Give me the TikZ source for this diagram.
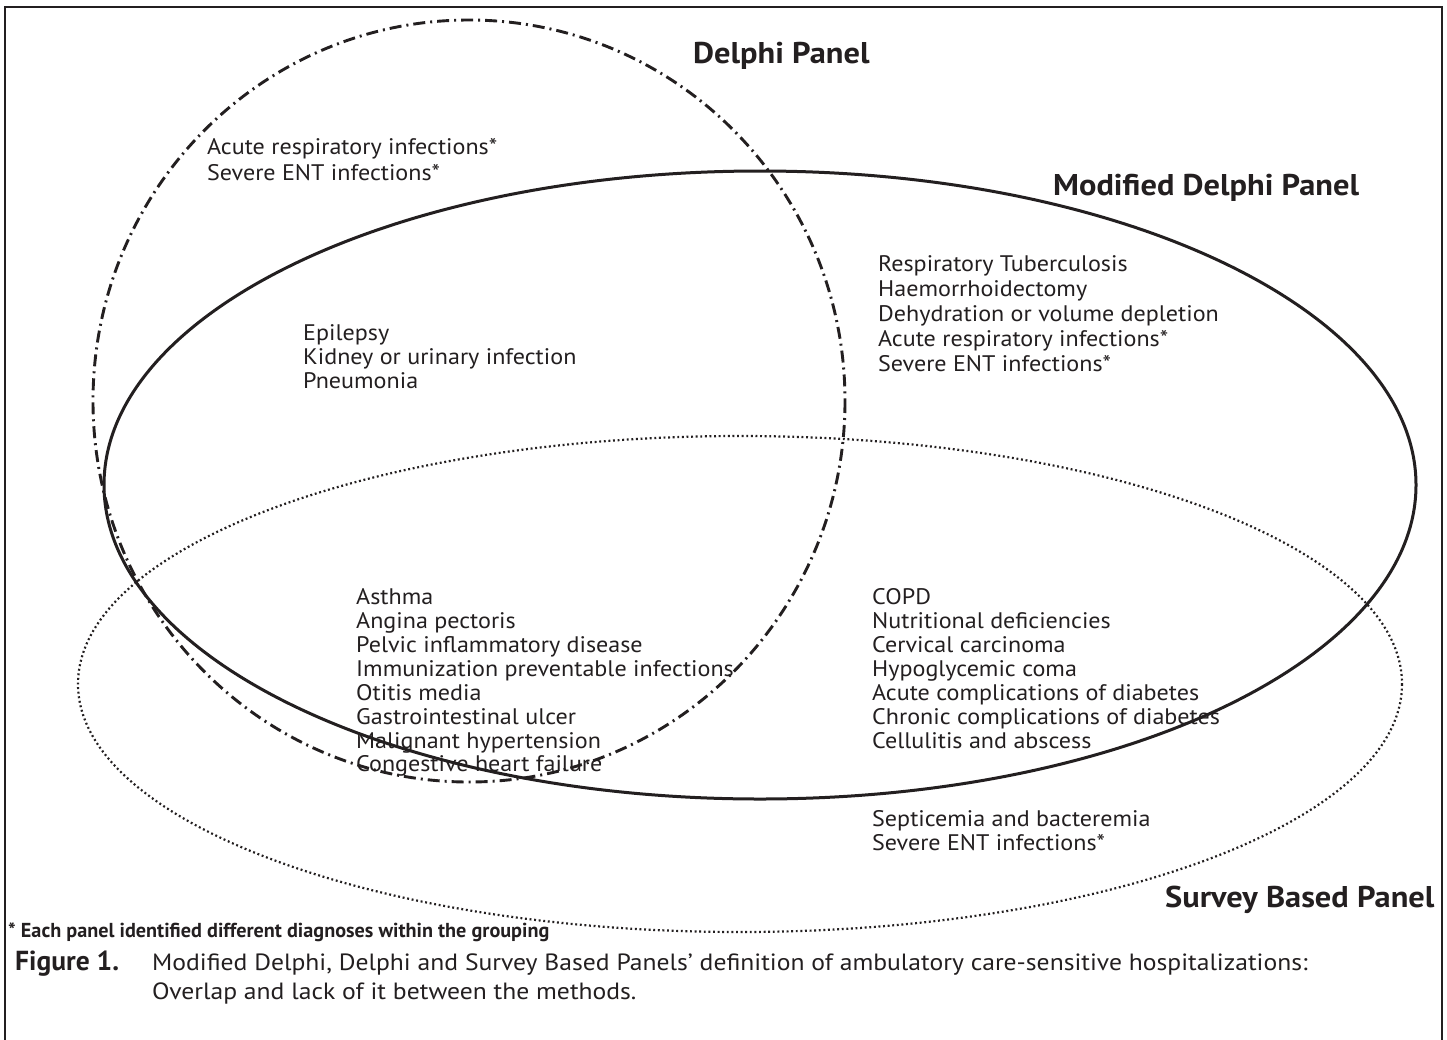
\documentclass[tikz,border=0pt]{standalone}
\usepackage{fontspec}
\setmainfont{PT Sans}
\newfontfamily\bodyfont[FakeStretch=1.07]{PT Sans}
\newfontfamily\headfont[FakeStretch=1.08]{PT Sans}
\newfontfamily\captfont[FakeStretch=1.09]{PT Sans}
\definecolor{ink}{HTML}{231F20}
\begin{document}
\begin{tikzpicture}[x=1pt,y=-1pt,
  every node/.style={inner sep=0pt, anchor=base west, text=ink},
  body/.style={font=\bodyfont\fontsize{22.5}{24}\selectfont},
  head/.style={font=\headfont\fontsize{30}{34}\selectfont\bfseries},
  foot/.style={font=\fontsize{20.2}{24}\selectfont\bfseries},
  capt/.style={font=\captfont\fontsize{23.5}{28}\selectfont},
  captb/.style={font=\fontsize{27.5}{28}\selectfont\bfseries},
  delphi/.style={draw=ink, line width=2.9pt, dash pattern=on 12pt off 5pt on 2pt off 5pt},
  modif/.style={draw=ink, line width=3pt},
  survey/.style={draw=ink, line width=2.2pt, dash pattern=on 1.9pt off 2.7pt}]
\useasboundingbox (0,0) rectangle (1447,1039);
\fill[white] (0,0) rectangle (1447,1039);
% frame
\draw[ink, line width=2.2pt] (5,1050) -- (5,7) -- (1442,7) -- (1442,1050);
% sets
\draw[delphi] (469,401) ellipse[x radius=376, y radius=381];
\draw[modif] (760,485) ellipse[x radius=656, y radius=314];
\draw[survey] (740,684) ellipse[x radius=662, y radius=248];
% headings
\node[head] (hd) at (693,63) {Delphi Panel};
\node[head] (hm) at (1053,195) {Modified Delphi Panel};
\node[head] (hs) at (1165,907) {Survey Based Panel};
% Delphi only
\node[body] (d1) at (207,154) {Acute respiratory infections*};
\node[body] (d2) at (207,180) {Severe ENT infections*};
% Delphi + Modified
\node[body] (dm1) at (303,340) {Epilepsy};
\node[body] (dm2) at (303,364) {Kidney or urinary infection};
\node[body] (dm3) at (303,388) {Pneumonia};
% Modified only
\foreach \t [count=\i] in {Respiratory Tuberculosis,Haemorrhoidectomy,Dehydration or volume depletion,Acute respiratory infections*,Severe ENT infections*}
  \node[body] (m\i) at (878,{246+25*\i}) {\t};
% all three
\foreach \t [count=\i] in {Asthma,Angina pectoris,Pelvic inflammatory disease,Immunization preventable infections,Otitis media,Gastrointestinal ulcer,Malignant hypertension,Congestive heart failure}
  \node[body] (a\i) at (356,{581+23.86*\i}) {\t};
% Modified + Survey
\foreach \t [count=\i] in {COPD,Nutritional deficiencies,Cervical carcinoma,Hypoglycemic coma,Acute complications of diabetes,Chronic complications of diabetes,Cellulitis and abscess}
  \node[body] (ms\i) at (872,{580+24*\i}) {\t};
% Survey only
\node[body] (s1) at (872,826) {Septicemia and bacteremia};
\node[body] (s2) at (872,850) {Severe ENT infections*};
% footnote and caption
\node[foot] (fn) at (8,937) {* Each panel identified different diagnoses within the grouping};
\node[captb] (fig) at (15,970) {Figure 1.};
\node[capt] (c1) at (152,970) {Modified Delphi, Delphi and Survey Based Panels’ definition of ambulatory care-sensitive hospitalizations:};
\node[capt] (c2) at (152,999) {Overlap and lack of it between the methods.};
\end{tikzpicture}
\end{document}
